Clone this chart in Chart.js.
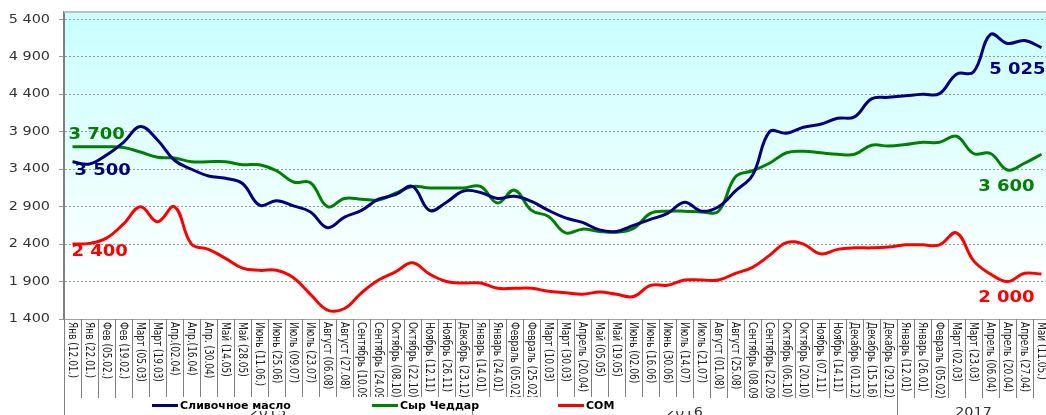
<!DOCTYPE html>
<html><head><meta charset="utf-8">
<script src="https://cdn.jsdelivr.net/npm/chart.js@4.4.1/dist/chart.umd.min.js"></script>
<style>html,body{margin:0;padding:0;overflow:hidden;background:#fff;width:1046px;height:415px}canvas{display:block}</style>
</head><body>
<canvas id="c" width="1051" height="415"></canvas>
<script>
const categories = ['Янв (12.01.)','Янв (22.01.)','Фев (05.02.)','Фев (19.02.)','Март (05.03)','Март (19.03)','Апр.(02.04)','Апр.(16.04)','Апр. (30.04)','Май (14.05)','Май (28.05)','Июнь (11.06.)','Июнь (25.06)','Июль (09.07)','Июль (23.07)','Август (06.08)','Август (27.08)','Сентябрь (10.09)','Сентябрь (24.09)','Октябрь (08.10)','Октябрь (22.10)','Ноябрь (12.11)','Ноябрь (26.11)','Декабрь (23.12)','Январь (14.01)','Январь (24.01)','Февраль (05.02)','Февраль (25.02)','Март (10.03)','Март (30.03)','Апрель (20.04)','Май (05.05)','Май (19.05)','Июнь (02.06)','Июнь (16.06)','Июнь (30.06)','Июль (14.07)','Июль (21.07)','Август (01.08)','Август (25.08)','Сентябрь (08.09)','Сентябрь (22.09)','Октябрь (06.10)','Октябрь (20.10)','Ноябрь (07.11)','Ноябрь (14.11)','Декабрь (01.12)','Декабрь (15.16)','Декабрь (29.12)','Январь (12.01)','Январь (26.01)','Февраль (05.02)','Март (02.03)','Март (23.03)','Апрель (06.04)','Апрель (20.04)','Апрель (27.04)','Май (11.05.)'];

const butter = [3500,3470,3590,3760,3970,3790,3520,3400,3310,3280,3210,2920,2980,2910,2830,2620,2760,2850,3000,3060,3170,2850,2960,3110,3090,3010,3040,2970,2850,2750,2690,2590,2570,2650,2730,2810,2960,2840,2900,3110,3320,3900,3880,3960,4000,4080,4100,4340,4360,4380,4400,4410,4670,4700,5200,5080,5120,5025];
const cheddar = [3700,3700,3700,3690,3630,3560,3550,3500,3500,3500,3460,3460,3380,3230,3220,2900,3010,3000,2990,3080,3170,3150,3150,3150,3170,2950,3120,2850,2770,2550,2600,2570,2560,2610,2810,2840,2840,2830,2840,3300,3380,3480,3620,3640,3620,3600,3600,3720,3710,3730,3760,3760,3840,3610,3610,3390,3480,3600];
const smp = [2400,2410,2480,2670,2900,2700,2900,2400,2330,2210,2080,2050,2050,1950,1730,1520,1540,1750,1920,2030,2150,2000,1900,1880,1880,1810,1810,1810,1770,1750,1730,1760,1730,1700,1850,1850,1920,1920,1920,2010,2090,2250,2420,2400,2270,2330,2350,2350,2360,2390,2390,2390,2550,2180,2000,1900,2010,2000];

const seriesNames = ['Сливочное масло','Сыр Чеддар','СОМ'];
const seriesColors = ['#000080','#008000','#ff0000'];
const yTicks = [1400,1900,2400,2900,3400,3900,4400,4900,5400];
const yMin = 1400, yMax = 5500;
const years = ['2015','2016','2017'];
const yearStart = [0,24,49];
const startLabels = ['3 500','3 700','2 400'];
const endLabels = ['5 025','3 600','2 000'];

function fmt(v){ return String(v).replace(/\B(?=(\d{3})+(?!\d))/g,' '); }
function txt(ctx,s,x,y,font,color,align,base,sx,rot){
  ctx.save(); ctx.font=font; ctx.fillStyle=color; ctx.textAlign=align; ctx.textBaseline=base;
  ctx.translate(x,y); ctx.scale(sx,1); if(rot) ctx.rotate(rot); ctx.fillText(s,0,0); ctx.restore();
}

const decor = {
  id:'decor',
  beforeDraw(chart){
    const {ctx, chartArea:a} = chart;
    const g = ctx.createLinearGradient(0,a.top,0,a.bottom);
    g.addColorStop(0,'#c8ffff'); g.addColorStop(0.9,'#ffffff'); g.addColorStop(1,'#ffffff');
    ctx.save(); ctx.fillStyle=g; ctx.fillRect(a.left,a.top,a.right-a.left,a.bottom-a.top); ctx.restore();
  },
  afterDraw(chart){
    const {ctx, chartArea:a} = chart;
    const xs = chart.scales.x, ys = chart.scales.y;
    ctx.save(); ctx.strokeStyle='#c0c0c0'; ctx.lineWidth=2;
    ctx.beginPath(); ctx.moveTo(a.left,a.top); ctx.lineTo(a.right,a.top); ctx.stroke(); ctx.restore();
    yTicks.forEach(v=>{
      txt(ctx,fmt(v),50,ys.getPixelForValue(v),'12px "DejaVu Sans"','#333','right','middle',1.2);
    });
    const n = categories.length;
    const step = xs.getPixelForValue(1)-xs.getPixelForValue(0);
    ctx.save(); ctx.strokeStyle='#808080'; ctx.lineWidth=1;
    for(let i=0;i<=n;i++){
      const bx = Math.round(xs.getPixelForValue(i)-step/2)+0.5;
      const isYear = i===0 || yearStart.includes(i);
      ctx.beginPath(); ctx.moveTo(bx,a.bottom); ctx.lineTo(bx, isYear?415:398); ctx.stroke();
    }
    ctx.restore();
    ctx.save();
    ctx.beginPath(); ctx.rect(a.left,a.bottom,a.right-a.left,398-a.bottom); ctx.clip();
    categories.forEach((c,i)=>{
      txt(ctx,c,xs.getPixelForValue(i),322,'9px "DejaVu Sans"','#222','left','middle',1.35,Math.PI/2);
    });
    ctx.restore();
    years.forEach((y,k)=>{
      const s = yearStart[k], e = (k+1<years.length?yearStart[k+1]:n)-1;
      const cx = (xs.getPixelForValue(s)+xs.getPixelForValue(e))/2;
      txt(ctx,y,cx,407,'12px "DejaVu Sans"','#333','center','top',1.2);
    });
    ctx.save(); ctx.fillStyle='#fff'; ctx.fillRect(140,397,552,14); ctx.restore();
    const lx = [152,372,558];
    seriesNames.forEach((nm,k)=>{
      ctx.save(); ctx.strokeStyle=seriesColors[k]; ctx.lineWidth=3;
      ctx.beginPath(); ctx.moveTo(lx[k],405.5); ctx.lineTo(lx[k]+26,405.5); ctx.stroke(); ctx.restore();
      txt(ctx,nm,lx[k]+28,406,'bold 11px "DejaVu Sans"','#000','left','middle',1);
    });
    const sets = [butter,cheddar,smp];
    const sOff = [[2,9],[-4,-12],[-1,8]];
    const eOff = [[4,23],[-7,33],[-7,24]];
    sets.forEach((d,k)=>{
      const x0 = xs.getPixelForValue(0), y0 = ys.getPixelForValue(d[0]);
      txt(ctx,startLabels[k],x0+sOff[k][0],y0+sOff[k][1],'bold 15px "DejaVu Sans"',seriesColors[k],'left','middle',1.2);
      const x1 = xs.getPixelForValue(d.length-1), y1 = ys.getPixelForValue(d[d.length-1]);
      txt(ctx,endLabels[k],x1+eOff[k][0],y1+eOff[k][1],'bold 15px "DejaVu Sans"',seriesColors[k],'right','middle',1.2);
    });
  }
};

new Chart(document.getElementById('c'),{
  type:'line',
  data:{
    labels:categories,
    datasets:[butter,cheddar,smp].map((d,k)=>({
      label:seriesNames[k], data:d, borderColor:seriesColors[k], backgroundColor:seriesColors[k],
      borderWidth:3, pointRadius:0, tension:0.4, fill:false
    }))
  },
  options:{
    responsive:false, animation:false, devicePixelRatio:1,
    layout:{padding:{top:12,right:1,left:0,bottom:0}},
    plugins:{legend:{display:false},tooltip:{enabled:false}},
    scales:{
      x:{offset:true, grid:{display:false}, ticks:{display:false},
         border:{display:true,color:'#a0a0a0',width:1},
         afterFit(s){ s.height=96; }},
      y:{min:yMin,max:yMax,
         afterBuildTicks(s){ s.ticks = yTicks.map(v=>({value:v})); },
         afterFit(s){ s.width=64; },
         ticks:{display:false},
         grid:{color:'#9a9a9a',lineWidth:1,tickLength:5,drawTicks:true},
         border:{display:true,color:'#808080',width:2,dash:[2,2]}}
    }
  },
  plugins:[decor]
});
</script>
</body></html>
